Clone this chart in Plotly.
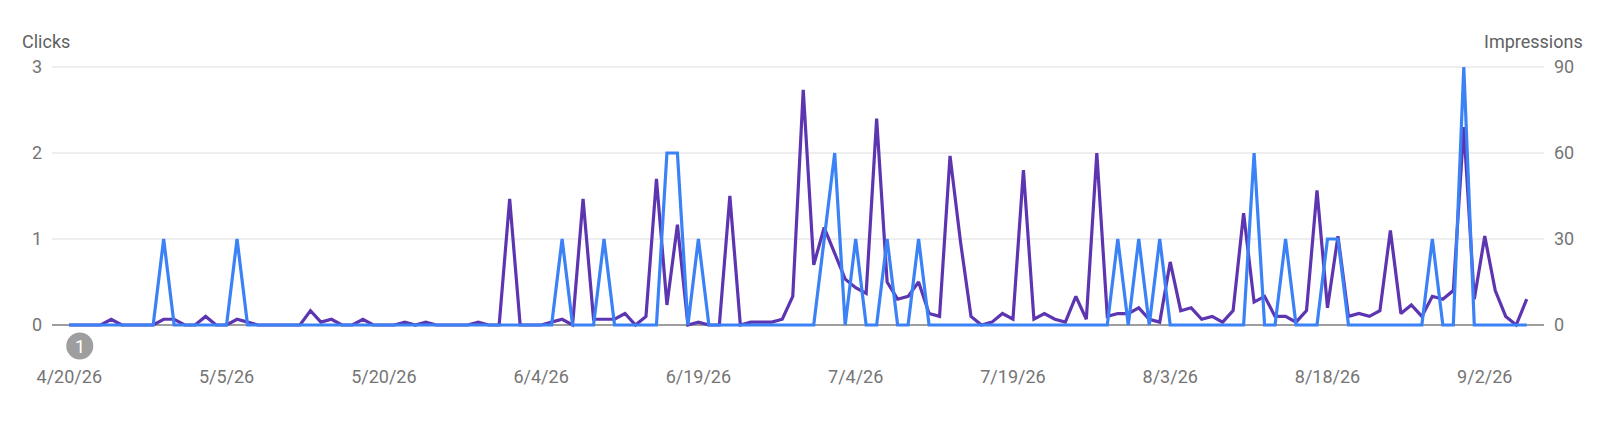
import pandas as pd
import plotly.graph_objects as go

# Daily values, 4/20/26 to 9/6/26
dates = pd.date_range("2026-04-20", "2026-09-06", freq="D")

clicks = [
    0, 0, 0, 0, 0, 0, 0, 0, 0, 1,
    0, 0, 0, 0, 0, 0, 1, 0, 0, 0,
    0, 0, 0, 0, 0, 0, 0, 0, 0, 0,
    0, 0, 0, 0, 0, 0, 0, 0, 0, 0,
    0, 0, 0, 0, 0, 0, 0, 1, 0, 0,
    0, 1, 0, 0, 0, 0, 0, 2, 2, 0,
    1, 0, 0, 0, 0, 0, 0, 0, 0, 0,
    0, 0, 1, 2, 0, 1, 0, 0, 1, 0,
    0, 1, 0, 0, 0, 0, 0, 0, 0, 0,
    0, 0, 0, 0, 0, 0, 0, 0, 0, 0,
    1, 0, 1, 0, 1, 0, 0, 0, 0, 0,
    0, 0, 0, 2, 0, 0, 1, 0, 0, 0,
    1, 1, 0, 0, 0, 0, 0, 0, 0, 0,
    1, 0, 0, 3, 0, 0, 0, 0, 0, 0,
]

impressions = [
    0, 0, 0, 0, 2, 0, 0, 0, 0, 2,
    2, 0, 0, 3, 0, 0, 2, 1, 0, 0,
    0, 0, 0, 5, 1, 2, 0, 0, 2, 0,
    0, 0, 1, 0, 1, 0, 0, 0, 0, 1,
    0, 0, 44, 0, 0, 0, 1, 2, 0, 44,
    2, 2, 2, 4, 0, 3, 51, 7, 35, 0,
    1, 0, 0, 45, 0, 1, 1, 1, 2, 10,
    82, 21, 34, 25, 16, 13, 11, 72, 15, 9,
    10, 15, 4, 3, 59, 29, 3, 0, 1, 4,
    2, 54, 2, 4, 2, 1, 10, 2, 60, 3,
    4, 4, 6, 2, 1, 22, 5, 6, 2, 3,
    1, 5, 39, 8, 10, 3, 3, 1, 5, 47,
    6, 31, 3, 4, 3, 5, 33, 4, 7, 3,
    10, 9, 12, 69, 9, 31, 12, 3, 0, 9,
]

x_ticks = ["2026-04-20", "2026-05-05", "2026-05-20", "2026-06-04", "2026-06-19",
           "2026-07-04", "2026-07-19", "2026-08-03", "2026-08-18", "2026-09-02"]
x_labels = ["4/20/26", "5/5/26", "5/20/26", "6/4/26", "6/19/26",
            "7/4/26", "7/19/26", "8/3/26", "8/18/26", "9/2/26"]
clicks_ticks = [0, 1, 2, 3]
impressions_ticks = [0, 30, 60, 90]

badge_date = "2026-04-21"
badge_text = "1"

font = "Roboto"
tick_color = "#757575"
title_color = "#616161"

fig = go.Figure()
# impressions sit on the base axis so the clicks line is drawn over them
fig.add_trace(go.Scatter(x=dates, y=impressions, mode="lines", yaxis="y",
                         line=dict(color="#5E35B1", width=3.2), name="Impressions"))
fig.add_trace(go.Scatter(x=dates, y=clicks, mode="lines", yaxis="y2",
                         line=dict(color="#3B82F6", width=3.2), name="Clicks"))

# the page adds 8px of body margin, so the figure is 8px short each way.
# ranges go 3px past 0 and the top tick so the lines are not cut in half there
fig.update_layout(
    width=1592, height=422,
    margin=dict(l=44, r=56, t=56, b=102),
    paper_bgcolor="white", plot_bgcolor="white",
    showlegend=False,
    font=dict(family=font, size=18, color=tick_color),
    xaxis=dict(range=["2026-04-18 08:24", "2026-09-07 15:36"],
               tickmode="array", tickvals=x_ticks, ticktext=x_labels,
               showgrid=False, zeroline=False, showline=False,
               ticklabelstandoff=36),
    yaxis=dict(side="right", range=[-1.047, 91.047], tickmode="array",
               tickvals=impressions_ticks,
               showgrid=True, gridcolor="#EEEEEE", gridwidth=1.5,
               zeroline=True, zerolinecolor="#9E9E9E", zerolinewidth=1.5,
               ticklabelstandoff=9),
    yaxis2=dict(side="left", overlaying="y", range=[-0.0349, 3.0349], tickmode="array",
                tickvals=clicks_ticks, showgrid=False, zeroline=False,
                ticklabelstandoff=9),
    shapes=[
        dict(type="circle", xref="x", yref="paper", layer="above",
             xsizemode="pixel", ysizemode="pixel",
             xanchor=badge_date, yanchor=-0.0682,
             x0=-13.5, x1=13.5, y0=-13.5, y1=13.5,
             fillcolor="#9E9E9E", line_width=0),
    ],
    annotations=[
        dict(text="Clicks", xref="paper", yref="paper", x=-0.0216, y=1.0845,
             xanchor="left", yanchor="middle", showarrow=False,
             font=dict(family=font, size=18, color=title_color)),
        dict(text="Impressions", xref="paper", yref="paper", x=1.0275, y=1.0845,
             xanchor="right", yanchor="middle", showarrow=False,
             font=dict(family=font, size=18, color=title_color)),
        dict(text=badge_text, xref="x", yref="paper", x=badge_date, y=-0.0682,
             xanchor="center", yanchor="middle", showarrow=False,
             font=dict(family=font, size=18, color="white")),
    ],
)

fig.write_html("out.html")
